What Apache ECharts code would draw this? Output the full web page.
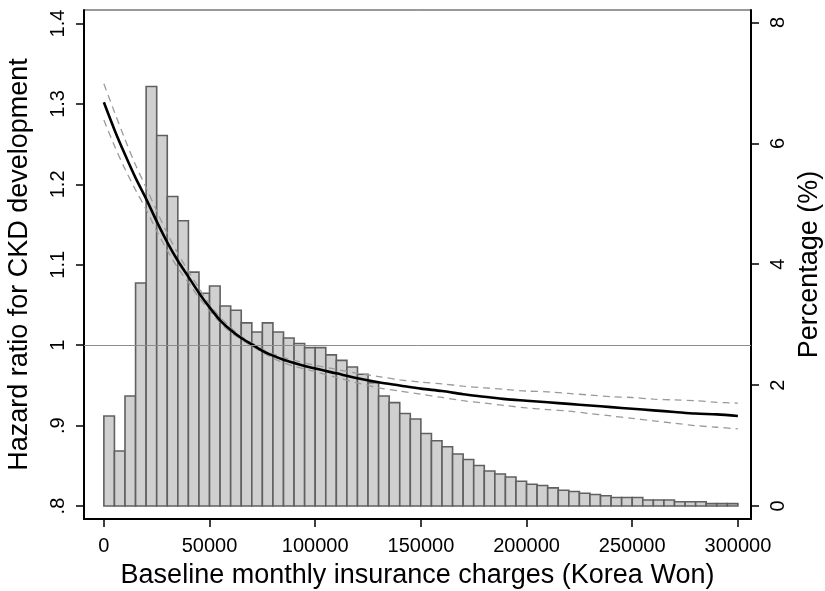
<!DOCTYPE html>
<html>
<head>
<meta charset="utf-8">
<script src="https://cdn.jsdelivr.net/npm/echarts@6/dist/echarts.min.js"></script>
<style>html,body{margin:0;padding:0;background:#fff}#c{width:825px;height:591px}</style>
</head>
<body>
<div id="c"></div>
<script>
// Histogram: percentage of subjects per 5000-Won bin (0..300000)
const binWidth = 5000;
const pct = [1.49, 0.91, 1.82, 3.69, 6.94, 6.13, 5.12, 4.72, 3.87, 3.52,
             3.64, 3.31, 3.24, 3.03, 2.88, 3.03, 2.88, 2.78, 2.69, 2.62,
             2.62, 2.50, 2.41, 2.30, 2.18, 2.04, 1.82, 1.71, 1.53, 1.44,
             1.20, 1.08, 0.98, 0.86, 0.77, 0.67, 0.58, 0.53, 0.48, 0.41,
             0.36, 0.34, 0.30, 0.26, 0.24, 0.21, 0.19, 0.17, 0.14, 0.14,
             0.14, 0.10, 0.10, 0.10, 0.07, 0.07, 0.07, 0.04, 0.04, 0.04];

// Hazard ratio curve and 95% CI
const curveX = [0, 5000, 10000, 15000, 20000, 25000, 30000, 35000, 40000, 45000,
                50000, 55000, 60000, 65000, 70000, 75000, 80000, 85000, 90000, 100000,
                110000, 120000, 130000, 140000, 150000, 160000, 170000, 180000, 190000, 200000,
                210000, 220000, 230000, 240000, 250000, 260000, 270000, 280000, 290000, 300000];
const hr = [1.302, 1.268, 1.237, 1.208, 1.182, 1.154, 1.128, 1.105, 1.085, 1.065,
            1.047, 1.031, 1.019, 1.009, 1.001, 0.993, 0.987, 0.982, 0.978, 0.971,
            0.965, 0.959, 0.954, 0.950, 0.946, 0.943, 0.939, 0.936, 0.933, 0.931,
            0.929, 0.927, 0.925, 0.923, 0.921, 0.919, 0.917, 0.915, 0.914, 0.912];
const hrUpper = [1.325, 1.290, 1.256, 1.224, 1.196, 1.167, 1.139, 1.114, 1.092, 1.071,
                 1.051, 1.035, 1.022, 1.011, 1.003, 0.995, 0.989, 0.985, 0.981, 0.975,
                 0.970, 0.965, 0.961, 0.957, 0.954, 0.952, 0.949, 0.947, 0.945, 0.943,
                 0.942, 0.940, 0.938, 0.936, 0.935, 0.933, 0.932, 0.931, 0.929, 0.928];
const hrLower = [1.280, 1.248, 1.219, 1.193, 1.169, 1.142, 1.118, 1.096, 1.078, 1.059,
                 1.043, 1.028, 1.016, 1.007, 0.999, 0.991, 0.984, 0.978, 0.974, 0.967,
                 0.960, 0.953, 0.947, 0.943, 0.939, 0.935, 0.931, 0.928, 0.925, 0.922,
                 0.920, 0.918, 0.915, 0.912, 0.909, 0.906, 0.903, 0.900, 0.898, 0.896];

// Tick values / labels
const xTicks = [0, 50000, 100000, 150000, 200000, 250000, 300000];
const hrTicks = [0.8, 0.9, 1.0, 1.1, 1.2, 1.3, 1.4];
const hrTickLabels = ['.8', '.9', '1', '1.1', '1.2', '1.3', '1.4'];
const pctTicks = [0, 2, 4, 6, 8];
const refHR = 1;

const FONT = 'Liberation Sans, Arial, sans-serif';
const TICK_FS = 20, TITLE_FS = 27;
const histData = pct.map((v, i) => [i * binWidth, (i + 1) * binWidth, v]);
const zip = (xs, ys) => xs.map((x, i) => [x, ys[i]]);

const chart = echarts.init(document.getElementById('c'), null, {renderer: 'canvas'});
chart.setOption({
  animation: false,
  backgroundColor: '#fff',
  grid: {left: 84, right: 74, top: 10, bottom: 72, outerBoundsMode: 'none', containLabel: false,
         show: true, borderColor: '#333', borderWidth: 1, backgroundColor: 'transparent'},
  xAxis: {
    type: 'value', min: -9400, max: 306200,
    name: 'Baseline monthly insurance charges (Korea Won)',
    nameLocation: 'middle', nameGap: 43,
    nameTextStyle: {fontFamily: FONT, fontSize: TITLE_FS, color: '#000'},
    axisLine: {show: true, onZero: false, lineStyle: {color: '#000', width: 2}},
    axisTick: {show: true, customValues: xTicks, length: 8, lineStyle: {color: '#000', width: 1.5}},
    axisLabel: {customValues: xTicks, margin: 17, fontFamily: FONT, fontSize: TICK_FS, color: '#000',
      formatter: v => String(v)},
    splitLine: {show: false}
  },
  yAxis: [{
    type: 'value', min: 0.7839, max: 1.4168, position: 'left',
    name: 'Hazard ratio for CKD development',
    nameLocation: 'middle', nameGap: 51, nameRotate: 90,
    nameTextStyle: {fontFamily: FONT, fontSize: TITLE_FS, color: '#000'},
    axisLine: {show: true, onZero: false, lineStyle: {color: '#000', width: 2}},
    axisTick: {show: true, customValues: hrTicks, length: 8, lineStyle: {color: '#000', width: 1.5}},
    axisLabel: {
      customValues: hrTicks, rotate: 90, margin: 16, fontFamily: FONT, fontSize: TICK_FS, color: '#000',
      formatter: v => { const k = hrTicks.findIndex(t => Math.abs(t - v) < 1e-6); return k >= 0 ? hrTickLabels[k] : ''; }
    },
    splitLine: {show: false}
  }, {
    type: 'value', min: -0.2149, max: 8.2066, position: 'right',
    name: 'Percentage (%)',
    nameLocation: 'middle', nameGap: 44, nameRotate: 90,
    nameTextStyle: {fontFamily: FONT, fontSize: TITLE_FS, color: '#000'},
    axisLine: {show: true, onZero: false, lineStyle: {color: '#000', width: 2}},
    axisTick: {show: true, customValues: pctTicks, length: 8, lineStyle: {color: '#000', width: 1.5}},
    axisLabel: {customValues: pctTicks, rotate: 90, margin: 17, fontFamily: FONT, fontSize: TICK_FS, color: '#000'},
    splitLine: {show: false}
  }],
  series: [
    {
      type: 'line', data: [], z: 1, silent: true,
      markLine: {
        silent: true, symbol: 'none', label: {show: false},
        lineStyle: {color: '#8c8c8c', width: 1, type: 'solid'},
        data: [{yAxis: refHR}]
      }
    },
    {
      type: 'custom', yAxisIndex: 1, z: 2, silent: true,
      data: histData,
      encode: {x: [0, 1], y: 2},
      renderItem: (params, api) => {
        const p0 = api.coord([api.value(0), 0]);
        const p1 = api.coord([api.value(1), api.value(2)]);
        return {
          type: 'rect',
          shape: {x: p0[0], y: p1[1], width: p1[0] - p0[0], height: p0[1] - p1[1]},
          style: {fill: '#d0d0d0', stroke: '#606060', lineWidth: 1.6}
        };
      }
    },
    {
      type: 'line', z: 3, data: zip(curveX, hrUpper), showSymbol: false, smooth: 0.3,
      lineStyle: {color: '#9a9a9a', width: 1.3, type: [7, 5]}
    },
    {
      type: 'line', z: 3, data: zip(curveX, hrLower), showSymbol: false, smooth: 0.3,
      lineStyle: {color: '#9a9a9a', width: 1.3, type: [7, 5]}
    },
    {
      type: 'line', z: 4, data: zip(curveX, hr), showSymbol: false, smooth: 0.3,
      lineStyle: {color: '#000', width: 2.6}
    }
  ]
});
</script>
</body>
</html>
